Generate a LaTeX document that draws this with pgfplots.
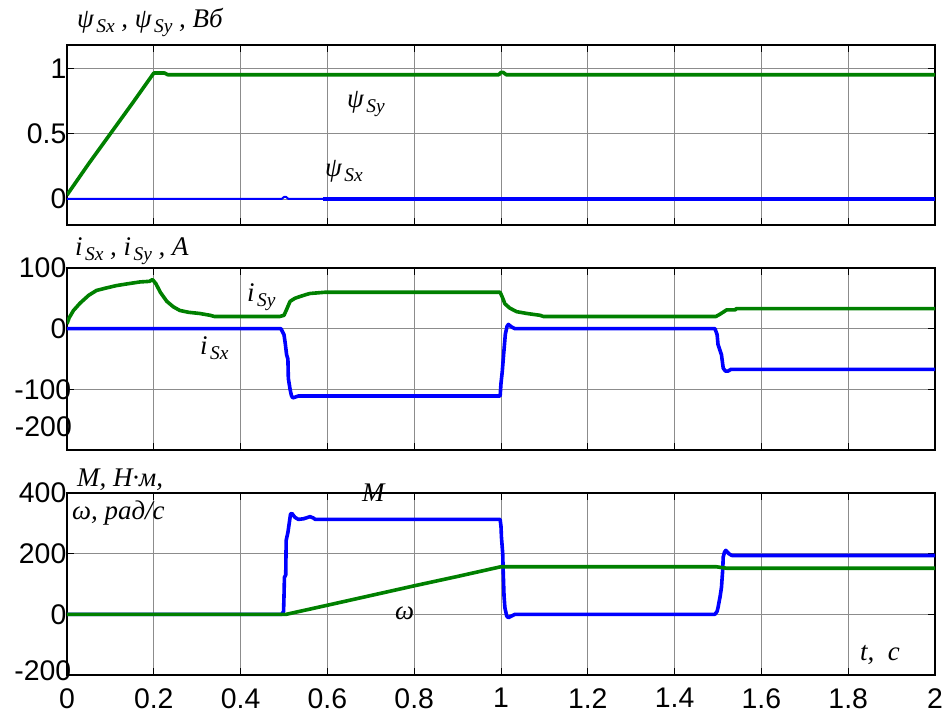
\documentclass[border=0pt]{standalone}
\usepackage{fontspec}
\setmainfont{Liberation Serif}
\newfontfamily\arial{Liberation Sans}
\usepackage{pgfplots}
\pgfplotsset{compat=1.18}
\definecolor{mgreen}{RGB}{0,128,0}
\definecolor{mblue}{RGB}{0,0,255}
\newcommand\lab{\itshape\fontsize{27}{27}\selectfont}
\newcommand\sub[1]{\kern2.5bp\raisebox{-5bp}{\fontsize{19.5}{19.5}\selectfont\itshape #1}}
\pgfplotsset{
  mystyle/.style={
    scale only axis, width=868bp, anchor=south west,
    xmin=0, xmax=2, xtick={0,0.2,0.4,0.6,0.8,1,1.2,1.4,1.6,1.8,2},
    xticklabels={},
    grid=major, major grid style={black!45, line width=0.7bp},
    axis line style={line width=1.3bp},
    tick align=inside, tick pos=both, major tick length=7bp,
    tick style={black, line width=0.8bp},
    ticklabel style={font=\arial\fontsize{28.5}{28.5}\selectfont},
    yticklabel style={anchor=east, inner sep=0pt, xshift=-0.5bp},
    xticklabel style={anchor=north, inner sep=0pt, yshift=-13bp},
  },
  gline/.style={color=mgreen, line width=3.6bp, line join=round},
  bline/.style={color=mblue, line width=3.6bp, line join=round},
}
\begin{document}
\begin{tikzpicture}
\path[use as bounding box] (0,0) rectangle (948bp,713bp);
% ---------- axis 1 ----------
\begin{axis}[mystyle, at={(67bp,488bp)}, height=180bp,
  ymin=-0.2, ymax=1.18, ytick={0,0.5,1}, yticklabels={0,0.5,1}]
\addplot[bline, line width=2bp] coordinates {(0,0) (0.495,0) (0.5,0.015) (0.505,0.015) (0.51,0) (0.59,0)};
\addplot[bline] coordinates {(0.59,0) (2,0)};
\addplot[gline] coordinates {(0,0.03) (0.05,0.27) (0.1,0.50) (0.15,0.73) (0.2,0.965) (0.225,0.965) (0.232,0.952) (0.995,0.952) (1.0,0.97) (1.005,0.97) (1.012,0.952) (2,0.952)};
\end{axis}
% ---------- axis 2 ----------
\begin{axis}[mystyle, at={(67bp,263bp)}, height=182bp,
  ymin=-200, ymax=100, ytick={-200,-100,0,100}, yticklabels={,-100\kern-5bp,0,100}]
\addplot[gline] coordinates {(0,8) (0.005,18) (0.015,30) (0.03,42) (0.05,55) (0.068,63) (0.09,67) (0.114,71) (0.14,74) (0.168,77) (0.19,78) (0.197,81) (0.205,74) (0.215,60) (0.23,45) (0.245,36) (0.26,30) (0.28,27) (0.306,25) (0.33,22) (0.34,20) (0.49,20) (0.5,22) (0.505,30) (0.514,45) (0.525,50) (0.537,53) (0.55,56) (0.56,58) (0.594,60) (0.998,60) (1.003,52) (1.009,41) (1.02,34) (1.036,28) (1.06,25) (1.09,22) (1.098,20) (1.495,20) (1.505,24) (1.52,31) (1.54,31) (1.542,33) (2,33)};
\addplot[bline] coordinates {(0,0) (0.493,0) (0.5,-10) (0.503,-25) (0.506,-43) (0.509,-50) (0.51,-82) (0.514,-100) (0.517,-110) (0.52,-114) (0.525,-113) (0.533,-111) (0.998,-111) (1.0,-90) (1.003,-70) (1.006,-43) (1.01,-9) (1.014,4) (1.017,7) (1.024,3) (1.032,0) (1.493,0) (1.498,-10) (1.50,-26) (1.508,-43) (1.512,-65) (1.517,-70) (1.523,-70) (1.53,-67) (2,-67)};
\end{axis}
% ---------- axis 3 ----------
\begin{axis}[mystyle, at={(67bp,38bp)}, height=182bp,
  ymin=-200, ymax=400, ytick={-200,0,200,400}, yticklabels={\raisebox{8bp}{-200}\kern-5bp,0,200,400},
  xticklabels={0,0.2,0.4,0.6,0.8,1,1.2,1.4,1.6,1.8,2}]
\addplot[bline] coordinates {(0,0) (0.495,0) (0.499,10) (0.5,60) (0.501,122) (0.504,130) (0.505,244) (0.509,270) (0.512,300) (0.515,330) (0.518,333) (0.525,320) (0.533,313) (0.545,315) (0.56,322) (0.567,318) (0.572,313) (0.998,313) (1.0,290) (1.001,255) (1.004,200) (1.005,144) (1.007,60) (1.009,22) (1.013,-5) (1.017,-11) (1.025,-5) (1.032,0) (1.493,0) (1.498,10) (1.5,22) (1.505,60) (1.508,89) (1.511,150) (1.512,189) (1.515,205) (1.518,211) (1.525,200) (1.532,194) (2,194)};
\addplot[gline] coordinates {(0,0) (0.505,0) (0.6,30) (0.7,62) (0.8,94) (0.9,125) (1.0,157) (1.495,157) (1.52,152) (2,152)};
\end{axis}
% ---------- labels ----------
\node[anchor=east, inner sep=0pt, font=\arial\fontsize{28.5}{28.5}\selectfont] at (72bp,286bp) {-200};
\node[anchor=base west, inner sep=0pt, font=\lab] at (77bp,685bp) {ψ\sub{Sx} , ψ\sub{Sy} , Вб};
\node[anchor=base west, inner sep=0pt, font=\lab] at (75bp,457bp) {i\sub{Sx} , i\sub{Sy} , А};
\node[anchor=base west, inner sep=0pt, font=\lab] at (77bp,226bp) {M, Н·м,};
\node[anchor=base west, inner sep=0pt, font=\lab] at (72bp,193bp) {ω, рад/с};
\node[anchor=base west, inner sep=0pt, font=\lab] at (347bp,605bp) {ψ\sub{Sy}};
\node[anchor=base west, inner sep=0pt, font=\lab] at (325bp,536bp) {ψ\sub{Sx}};
\node[anchor=base west, inner sep=0pt, font=\lab] at (247bp,411bp) {i\sub{Sy}};
\node[anchor=base west, inner sep=0pt, font=\lab] at (200bp,358bp) {i\sub{Sx}};
\node[anchor=base west, inner sep=0pt, font=\lab] at (362bp,211bp) {M};
\node[anchor=base west, inner sep=0pt, font=\lab] at (395bp,93bp) {ω};
\node[anchor=base west, inner sep=0pt, font=\lab] at (860bp,52bp) {t,\ \ с};
\end{tikzpicture}
\end{document}
